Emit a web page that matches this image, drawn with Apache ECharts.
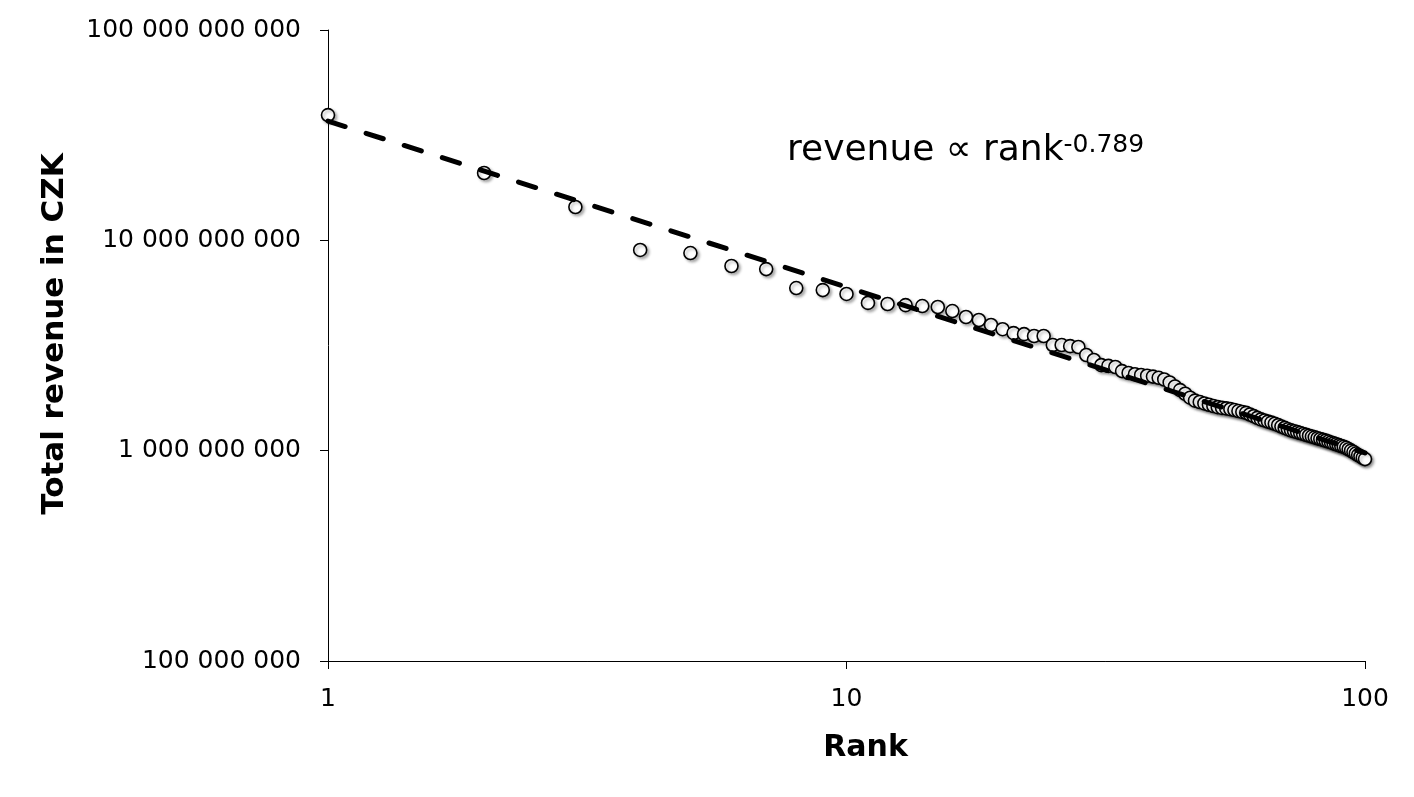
<!DOCTYPE html>
<html>
<head>
<meta charset="utf-8">
<script src="https://cdn.jsdelivr.net/npm/echarts@6/dist/echarts.min.js"></script>
<style>
  html, body { margin: 0; padding: 0; background: #fff; }
  #main { width: 1414px; height: 797px; }
</style>
</head>
<body>
<div id="main"></div>
<script>
// rank 1..100, total revenue in CZK
const revenue = [
  3.94e10, 2.09e10, 1.44e10, 9.0e9, 8.7e9, 7.55e9, 7.3e9, 5.93e9, 5.8e9, 5.56e9,
  5.04e9, 4.98e9, 4.92e9, 4.87e9, 4.82e9, 4.61e9, 4.32e9, 4.18e9, 3.96e9, 3.78e9,
  3.62e9, 3.58e9, 3.51e9, 3.51e9, 3.18e9, 3.18e9, 3.14e9, 3.11e9, 2.85e9, 2.70e9,
  2.55e9, 2.53e9, 2.50e9, 2.39e9, 2.34e9, 2.31e9, 2.29e9, 2.27e9, 2.25e9, 2.22e9,
  2.18e9, 2.11e9, 2.02e9, 1.94e9, 1.865e9, 1.786e9, 1.729e9, 1.703e9, 1.677e9, 1.653e9,
  1.63e9, 1.61e9, 1.598e9, 1.588e9, 1.575e9, 1.56e9, 1.543e9, 1.528e9, 1.513e9, 1.486e9,
  1.459e9, 1.432e9, 1.408e9, 1.392e9, 1.375e9, 1.36e9, 1.342e9, 1.322e9, 1.302e9, 1.283e9,
  1.265e9, 1.249e9, 1.237e9, 1.225e9, 1.213e9, 1.201e9, 1.189e9, 1.178e9, 1.167e9, 1.157e9,
  1.146e9, 1.136e9, 1.126e9, 1.116e9, 1.105e9, 1.094e9, 1.083e9, 1.073e9, 1.062e9, 1.052e9,
  1.043e9, 1.032e9, 1.016e9, 1.001e9, 9.85e8, 9.69e8, 9.53e8, 9.39e8, 9.24e8, 9.12e8
];
const ranks = revenue.map((v, i) => i + 1);

// power-law fit, drawn between its two ends
const fitLine = [[1, 3.69e10], [100, 9.75e8]];

const spaced = v => String(Math.round(v)).replace(/\B(?=(\d{3})+(?!\d))/g, ' ');

const font = 'DejaVu Sans';

const option = {
  backgroundColor: '#fff',
  animation: false,
  title: {
    left: 782,
    top: 128,
    text: '{m|revenue \u221d rank}{s|-0.789}',
    textStyle: {
      fontWeight: 'normal',
      rich: {
        m: { fontFamily: font, fontSize: 36, fontWeight: 'normal', color: '#000' },
        s: { fontFamily: font, fontSize: 25, fontWeight: 'normal', color: '#000', verticalAlign: 'top' }
      }
    }
  },
  grid: { left: 328, right: 49, top: 30, bottom: 136 },
  xAxis: {
    type: 'log',
    logBase: 10,
    min: 1,
    max: 100,
    name: 'Rank',
    nameLocation: 'middle',
    nameGap: 72,
    nameTextStyle: {
      fontFamily: font, fontSize: 30, fontWeight: 'bold', color: '#000',
      padding: [0, 0, 0, 38]
    },
    axisLine: { lineStyle: { color: '#000', width: 1 } },
    axisTick: { length: 8, lineStyle: { color: '#000' } },
    axisLabel: { fontFamily: font, fontSize: 25, color: '#000', margin: 26 },
    splitLine: { show: false },
    minorTick: { show: false }
  },
  yAxis: {
    type: 'log',
    logBase: 10,
    min: 1e8,
    max: 1e11,
    name: 'Total revenue in CZK',
    nameLocation: 'middle',
    nameGap: 258,
    nameTextStyle: {
      fontFamily: font, fontSize: 31, fontWeight: 'bold', color: '#000',
      padding: [0, 0, 0, 23]
    },
    axisLine: { show: true, lineStyle: { color: '#000', width: 1 } },
    axisTick: { show: true, length: 8, lineStyle: { color: '#000' } },
    axisLabel: { fontFamily: font, fontSize: 25, color: '#000', margin: 27, formatter: spaced },
    splitLine: { show: false }
  },
  series: [
    {
      type: 'scatter',
      data: ranks.map((r, i) => [r, revenue[i]]),
      symbol: 'circle',
      symbolSize: 13,
      itemStyle: {
        color: '#fff',
        opacity: 1,
        borderColor: '#000',
        borderWidth: 1.6,
        shadowBlur: 3,
        shadowOffsetX: 2,
        shadowOffsetY: 2,
        shadowColor: 'rgba(0,0,0,0.3)'
      },
      z: 2
    },
    {
      type: 'line',
      data: fitLine,
      symbol: 'none',
      lineStyle: { color: '#000', width: 5, type: [18, 22], cap: 'round' },
      z: 3
    }
  ]
};

const chart = echarts.init(document.getElementById('main'));
chart.setOption(option);
</script>
</body>
</html>
